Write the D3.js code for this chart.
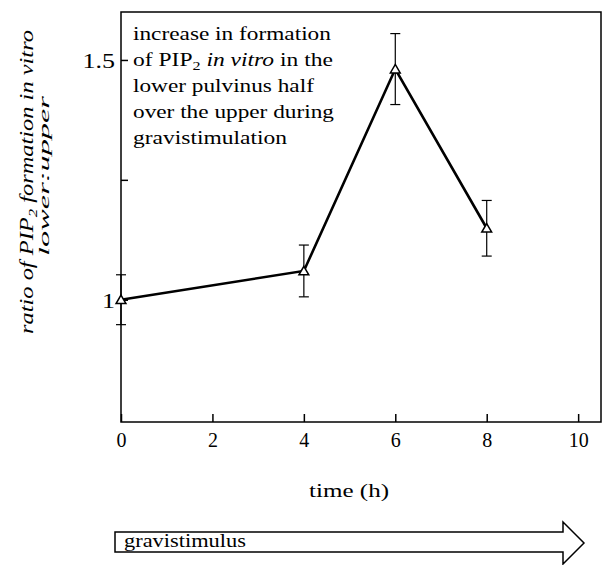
<!DOCTYPE html>
<html>
<head>
<meta charset="utf-8">
<script src="https://cdn.jsdelivr.net/npm/d3@7"></script>
<style>
  body { margin: 0; background: #fff; }
  svg { display: block; font-family: "Liberation Serif", "Times New Roman", serif; }
</style>
</head>
<body>
<div id="plot"></div>
<script>
// data
const times = [0, 4, 6, 8];
const ratios = [1.0, 1.06, 1.481, 1.149];
const errors = [0.052, 0.054, 0.074, 0.058];

const xTicks = [0, 2, 4, 6, 8, 10];
const yTicks = [1, 1.25, 1.5];
const yTickLabels = ['1', '', '1.5'];

const noteLines = [
    [{ t: 'increase in formation' }],
    [{ t: 'of PIP' }, { t: '2', sub: true }, { t: ' in vitro', it: true }, { t: ' in the' }],
    [{ t: 'lower pulvinus half' }],
    [{ t: 'over the upper during' }],
    [{ t: 'gravistimulation' }]
];
const noteWidths = [198, 200, 181, 201, 154];

const W = 607, H = 565;
let margin = { top: 12, right: 6, bottom: 143, left: 121 },
    width = W - margin.left - margin.right,
    height = H - margin.top - margin.bottom;

let svg = d3.select("#plot")
    .append("svg")
    .attr("width", W)
    .attr("height", H);

let g = svg.append("g")
    .attr("transform", "translate(" + margin.left + "," + margin.top + ")");

let x = d3.scaleLinear()
    .domain([0, 10.5])
    .range([0, width]);

let y = d3.scaleLinear()
    .domain([0.745, 1.6])
    .range([height, 0]);

// stretch a text along its own direction so it spans target px
const fit = (sel, target, tx, ty, rot) => {
    const w = sel.node().getComputedTextLength();
    const k = target / w;
    sel.attr("transform", `translate(${tx},${ty}) rotate(${rot || 0}) scale(${k},1)`);
};

// frame
g.append("rect")
    .attr("width", width)
    .attr("height", height)
    .attr("fill", "none")
    .attr("stroke", "#000")
    .attr("stroke-width", 1.5);

let xAxis = g.append("g")
    .attr("transform", "translate(0," + height + ")")
    .call(d3.axisBottom(x)
        .tickValues(xTicks)
        .tickSizeInner(-8)
        .tickSizeOuter(0)
        .tickPadding(11)
        .tickFormat(d3.format("d")));

let yAxis = g.append("g")
    .call(d3.axisLeft(y)
        .tickValues(yTicks)
        .tickSizeInner(-7)
        .tickSizeOuter(0)
        .tickPadding(6)
        .tickFormat((d, i) => yTickLabels[i]));

[xAxis, yAxis].forEach(a => {
    a.attr("font-family", null);
    a.select(".domain").remove();
    a.selectAll(".tick line").attr("stroke", "#000").attr("stroke-width", 1.5);
    a.selectAll(".tick text")
        .attr("fill", "#000")
        .style("font-family", '"Liberation Serif", serif')
        .style("font-size", "20px");
});
// the y labels are printed wider in the original
yAxis.selectAll(".tick text")
    .attr("x", 0)
    .attr("dy", "0.4em")
    .attr("transform", "translate(-6,0) scale(1.3,1)");

// error bars
const pts = times.map((t, i) => ({ t, v: ratios[i], e: errors[i] }));
const cap = 5;
let eb = g.append("g").attr("stroke", "#000").attr("stroke-width", 1.2);
pts.forEach(d => {
    eb.append("line")
        .attr("x1", x(d.t)).attr("x2", x(d.t))
        .attr("y1", y(d.v - d.e)).attr("y2", y(d.v + d.e));
    [d.v - d.e, d.v + d.e].forEach(v => eb.append("line")
        .attr("x1", x(d.t) - cap).attr("x2", x(d.t) + cap)
        .attr("y1", y(v)).attr("y2", y(v)));
});

// line
g.append("path")
    .datum(pts)
    .attr("fill", "none")
    .attr("stroke", "#000")
    .attr("stroke-width", 2.6)
    .attr("d", d3.line()
        .x(d => x(d.t))
        .y(d => y(d.v)));

// open triangles
g.selectAll(".pt")
    .data(pts)
    .enter().append("path")
    .attr("class", "pt")
    .attr("transform", d => "translate(" + x(d.t) + "," + (y(d.v) + 1) + ")")
    .attr("d", d3.symbol().type(d3.symbolTriangle).size(42))
    .attr("fill", "#fff")
    .attr("stroke", "#000")
    .attr("stroke-width", 1.5);

// note in the top left corner
noteLines.forEach((parts, i) => {
    let t = svg.append("text")
        .attr("font-size", 19)
        .attr("fill", "#000");
    parts.forEach((p, j) => {
        let s = t.append("tspan").text(p.t);
        if (p.it) s.attr("font-style", "italic");
        if (p.sub) s.attr("font-size", 13).attr("dy", 4);
        if (j > 0 && parts[j - 1].sub) s.attr("dy", -4);
    });
    fit(t, noteWidths[i], 133, 40 + i * 26);
});

// y-axis title
let yl1 = svg.append("text")
    .attr("font-size", 19)
    .attr("font-style", "italic")
    .attr("text-anchor", "middle");
yl1.append("tspan").text("ratio of PIP");
yl1.append("tspan").text("2").attr("font-size", 13).attr("dy", 4);
yl1.append("tspan").text(" formation in vitro").attr("dy", -4);
fit(yl1, 304, 33, 182, -90);

let yl2 = svg.append("text")
    .attr("font-size", 15)
    .attr("font-style", "italic")
    .attr("text-anchor", "middle")
    .text("lower:upper");
fit(yl2, 160, 49, 176, -90);

// x-axis title
let xl = svg.append("text")
    .attr("font-size", 19)
    .attr("text-anchor", "middle")
    .text("time (h)");
fit(xl, 80, 349, 497);

// gravistimulus arrow
svg.append("path")
    .attr("d", "M115,532 H563 V522 L584,543 L563,564 V552 H115 Z")
    .attr("fill", "#fff")
    .attr("stroke", "#000")
    .attr("stroke-width", 1.5);

let gs = svg.append("text")
    .attr("font-size", 19)
    .text("gravistimulus");
fit(gs, 122, 124, 547);
</script>
</body>
</html>
